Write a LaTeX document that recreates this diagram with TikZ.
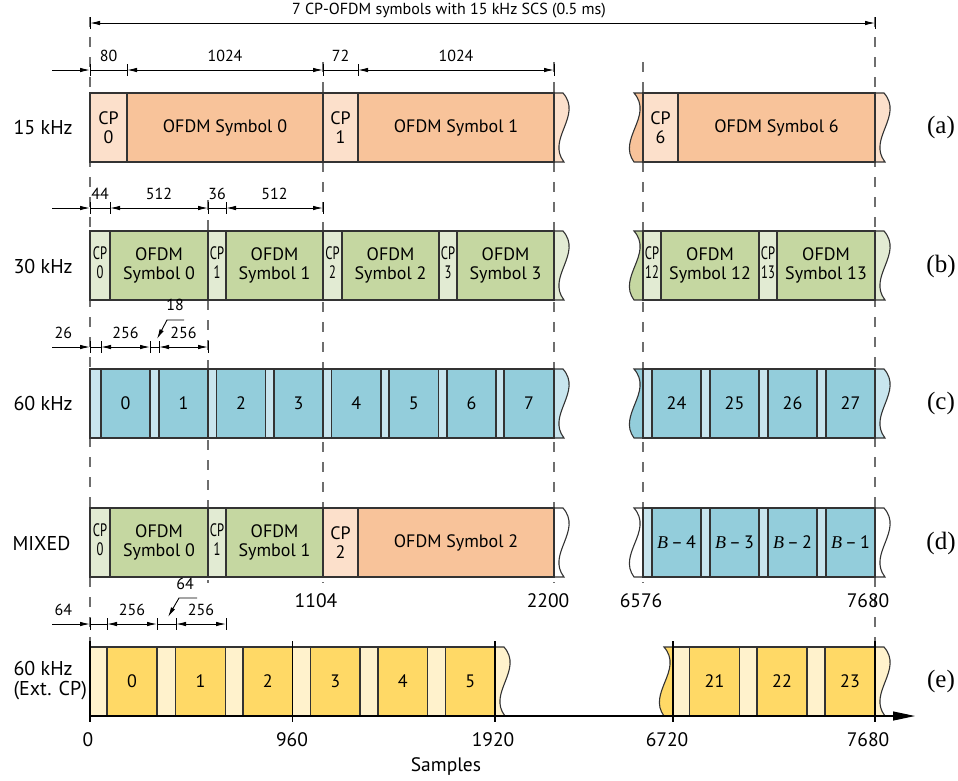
\documentclass[tikz,border=0pt]{standalone}
\usepackage{fontspec}
\setmainfont{Liberation Serif}
\setsansfont{PT Sans}
\usepackage{graphicx}
\usetikzlibrary{arrows.meta}

\definecolor{orangeD}{HTML}{F8C39A}
\definecolor{orangeL}{HTML}{FCE0CB}
\definecolor{greenD}{HTML}{C5D7A1}
\definecolor{greenL}{HTML}{E2EBD3}
\definecolor{blueD}{HTML}{93CDDB}
\definecolor{blueL}{HTML}{C8E5EE}
\definecolor{yellowD}{HTML}{FFD966}
\definecolor{yellowL}{HTML}{FFF2CC}
\definecolor{edge}{HTML}{333333}
\definecolor{guidegray}{HTML}{6E6E6E}

% narrow CP label and torn ends
\newcommand\cpn[1]{\scalebox{0.7}[1]{\begin{tabular}{@{}c@{}}CP\\#1\end{tabular}}}
\newcommand\tornR[3]{\filldraw[torn, fill=#3] (#1,#2) -- (#1+9,#2) .. controls (#1+29,#2+23) and (#1-8,#2+46) .. (#1+10,#2+69) -- (#1,#2+69);}
\newcommand\tornL[3]{\filldraw[torn, fill=#3] (#1,#2) -- (#1-9,#2) .. controls (#1+11,#2+23) and (#1-26,#2+46) .. (#1-9,#2+69) -- (#1,#2+69);}

\tikzset{
  cell/.style={
    rectangle, draw=edge, line width=1.1pt, anchor=north west,
    minimum height=69pt, inner sep=0pt, outer sep=0pt, align=center,
    font=\sffamily\fontsize{18}{19}\selectfont
  },
  cpA/.style={cell, fill=orangeL}, symA/.style={cell, fill=orangeD},
  cpB/.style={cell, fill=greenL},  symB/.style={cell, fill=greenD},
  cpC/.style={cell, fill=blueL},   symC/.style={cell, fill=blueD},
  cpE/.style={cell, fill=yellowL}, symE/.style={cell, fill=yellowD},
  torn/.style={draw=edge, line width=1.1pt},
  guide/.style={draw=guidegray, line width=1.5pt, dash pattern=on 10pt off 10pt},
  dimline/.style={line width=0.9pt},
  dimarrow/.style={dimline, {Latex[length=10pt,width=4.5pt]}-{Latex[length=10pt,width=4.5pt]}},
  feed/.style={dimline, -{Latex[length=10pt,width=4.5pt]}},
  tick/.style={line width=0.9pt},
  dimlabel/.style={font=\sffamily\fontsize{16}{17}\selectfont, inner sep=2pt, above=6pt},
  rowlabel/.style={anchor=west, align=left, font=\sffamily\fontsize{20}{20}\selectfont},
  tag/.style={font=\rmfamily\fontsize{25}{27}\selectfont},
  axislabel/.style={font=\sffamily\fontsize{19.5}{21}\selectfont},
  axisline/.style={line width=1.1pt, -{Triangle[length=22pt,width=9pt]}}
}

\begin{document}
\begin{tikzpicture}[x=1pt, y=-1pt]
  \useasboundingbox (0,0) rectangle (958,780);

  % Guides
  \draw[guide] (90,17) -- (90,716);
  \draw[guide] (875,17) -- (875,716);
  \draw[guide] (323,62) -- (323,583);
  \draw[guide] (554,62) -- (554,583);
  \draw[guide] (643,62) -- (643,583);
  \draw[guide] (208,200) -- (208,583);

  % Torn ends
  \tornR{554}{93}{orangeL}  \tornL{643}{93}{orangeD}  \tornR{875}{93}{orangeL}
  \tornR{554}{231}{greenL}  \tornL{643}{231}{greenD}  \tornR{875}{231}{greenL}
  \tornR{554}{369}{blueL}   \tornL{643}{369}{blueD}   \tornR{875}{369}{blueL}
  \tornR{554}{508}{white}   \tornL{643}{508}{white}   \tornR{875}{508}{white}
  \tornR{495}{647}{yellowL} \tornL{673}{647}{yellowD} \tornR{875}{647}{yellowL}

  % (a) 15 kHz
  \node[cpA, minimum width=37pt] (a-cp0) at (90,93) {CP\\0};
  \node[symA, minimum width=196pt] (a-s0) at (127,93) {OFDM Symbol 0};
  \node[cpA, minimum width=35pt] (a-cp1) at (323,93) {CP\\1};
  \node[symA, minimum width=196pt] (a-s1) at (358,93) {OFDM Symbol 1};
  \node[cpA, minimum width=35pt] (a-cp6) at (643,93) {CP\\6};
  \node[symA, minimum width=197pt] (a-s6) at (678,93) {OFDM Symbol 6};

  % (b) 30 kHz
  \node[cpB, minimum width=20pt] (b-cp0) at (90,231) {\cpn{0}};
  \node[symB, minimum width=98pt] (b-s0) at (110,231) {OFDM\\Symbol 0};
  \node[cpB, minimum width=18pt] (b-cp1) at (208,231) {\cpn{1}};
  \node[symB, minimum width=97pt] (b-s1) at (226,231) {OFDM\\Symbol 1};
  \node[cpB, minimum width=19pt] (b-cp2) at (323,231) {\cpn{2}};
  \node[symB, minimum width=97pt] (b-s2) at (342,231) {OFDM\\Symbol 2};
  \node[cpB, minimum width=18pt] (b-cp3) at (439,231) {\cpn{3}};
  \node[symB, minimum width=97pt] (b-s3) at (457,231) {OFDM\\Symbol 3};
  \node[cpB, minimum width=18pt] (b-cp12) at (643,231) {\cpn{12}};
  \node[symB, minimum width=98pt] (b-s12) at (661,231) {OFDM\\Symbol 12};
  \node[cpB, minimum width=18pt] (b-cp13) at (759,231) {\cpn{13}};
  \node[symB, minimum width=98pt] (b-s13) at (777,231) {OFDM\\Symbol 13};

  % (c) 60 kHz
  \foreach \xa/\xb/\xc/\n in {90/101/150/0, 150/159/208/1, 208/216.5/265.5/2,
      265.5/274/323/3, 323/331.5/381/4, 381/389/438.5/5, 438.5/447/496/6,
      496/504/554/7, 643/652/701/24, 701/710/759/25, 759/768/817/26, 817/826/875/27} {
    \node[cpC, minimum width={(\xb-\xa)*1pt}] (c-cp\n) at (\xa,369) {};
    \node[symC, minimum width={(\xc-\xb)*1pt}] (c-s\n) at (\xb,369) {\n};
  }

  % (d) mixed
  \node[cpB, minimum width=20pt] (d-cp0) at (90,508) {\cpn{0}};
  \node[symB, minimum width=98pt] (d-s0) at (110,508) {OFDM\\Symbol 0};
  \node[cpB, minimum width=18pt] (d-cp1) at (208,508) {\cpn{1}};
  \node[symB, minimum width=97pt] (d-s1) at (226,508) {OFDM\\Symbol 1};
  \node[cpA, minimum width=35pt] (d-cp2) at (323,508) {CP\\2};
  \node[symA, minimum width=196pt] (d-s2) at (358,508) {OFDM Symbol 2};
  \foreach \xa/\xb/\xc/\n in {643/652/701/4, 701/710/759/3, 759/768/817/2, 817/826/875/1} {
    \node[cpC, minimum width={(\xb-\xa)*1pt}] (d-cpB\n) at (\xa,508) {};
    \node[symC, minimum width={(\xc-\xb)*1pt}] (d-sB\n) at (\xb,508) {{\rmfamily\itshape B}\,--\,\n};
  }

  % (e) 60 kHz extended CP
  \foreach \xa/\xb/\xc/\n in {90/107/157/0, 157/175.5/225.5/1, 225.5/243/292.5/2,
      292.5/310.5/360/3, 360/378/427.5/4, 427.5/445.5/495/5,
      673/689.5/739.5/21, 739.5/757/807/22, 807/825/875/23} {
    \node[cpE, minimum width={(\xb-\xa)*1pt}] (e-cp\n) at (\xa,647) {};
    \node[symE, minimum width={(\xc-\xb)*1pt}] (e-s\n) at (\xb,647) {\n};
  }

  % Sample axis
  \coordinate (ax0) at (90,716);
  \coordinate (ax1) at (915,716);
  \draw[axisline] (ax0) -- (ax1);
  \foreach \x in {90,292.5,495,673,875} \draw[tick, line width=1.1pt] (\x,641) -- (\x,722);

  % Total duration
  \coordinate (tot0) at (90,23);
  \coordinate (tot1) at (875,23);
  \draw[dimarrow] (tot0) -- (tot1);
  \draw[tick] ([yshift=6pt]tot0) -- ([yshift=-6pt]tot0);
  \draw[tick] ([yshift=6pt]tot1) -- ([yshift=-6pt]tot1);
  \node[font=\sffamily\fontsize{16}{18}\selectfont] (tot) at (449,11)
    {7 CP-OFDM symbols with 15 kHz SCS (0.5 ms)};

  % Dimensions (a)
  \coordinate (a-in) at (52,70);
  \coordinate (a-d0) at (90,70);  \coordinate (a-d1) at (127,70);
  \coordinate (a-d2) at (323,70); \coordinate (a-d3) at (358,70);
  \coordinate (a-d4) at (554,70);
  \foreach \p in {a-d0,a-d1,a-d2,a-d3,a-d4} \draw[tick] ([yshift=6pt]\p) -- ([yshift=-6pt]\p);
  \draw[feed] (a-in) -- (a-d0);
  \draw[dimline] (a-d0) -- (a-d1) node[dimlabel, midway] {80};
  \draw[dimarrow] (a-d1) -- (a-d2) node[dimlabel, midway] {1024};
  \draw[dimline] (a-d2) -- (a-d3) node[dimlabel, midway] {72};
  \draw[dimarrow] (a-d3) -- (a-d4) node[dimlabel, midway] {1024};

  % Dimensions (b)
  \coordinate (b-in) at (52,208);
  \coordinate (b-d0) at (90,208);  \coordinate (b-d1) at (110,208);
  \coordinate (b-d2) at (208,208); \coordinate (b-d3) at (226,208);
  \coordinate (b-d4) at (323,208);
  \foreach \p in {b-d0,b-d1,b-d2,b-d3,b-d4} \draw[tick] ([yshift=6pt]\p) -- ([yshift=-6pt]\p);
  \draw[feed] (b-in) -- (b-d0);
  \draw[dimline] (b-d0) -- (b-d1) node[dimlabel, midway] {44};
  \draw[dimarrow] (b-d1) -- (b-d2) node[dimlabel, midway] {512};
  \draw[dimline] (b-d2) -- (b-d3) node[dimlabel, midway] {36};
  \draw[dimarrow] (b-d3) -- (b-d4) node[dimlabel, midway] {512};

  % Dimensions (c)
  \coordinate (c-in) at (52,347);
  \coordinate (c-d0) at (90,347);  \coordinate (c-d1) at (101,347);
  \coordinate (c-d2) at (150,347); \coordinate (c-d3) at (159,347);
  \coordinate (c-d4) at (208,347);
  \foreach \p in {c-d0,c-d1,c-d2,c-d3,c-d4} \draw[tick] ([yshift=6pt]\p) -- ([yshift=-6pt]\p);
  \draw[feed] (c-in) -- (c-d0) node[dimlabel, pos=0.3] {26};
  \draw[dimline] (c-d0) -- (c-d1);
  \draw[dimarrow] (c-d1) -- (c-d2) node[dimlabel, midway] {256};
  \draw[dimline] (c-d2) -- (c-d3);
  \draw[dimarrow] (c-d3) -- (c-d4) node[dimlabel, midway] {256};
  \node[dimlabel, above=0pt, anchor=center] (c-gap) at (175,311) {18};
  \coordinate (c-k0) at (184,320); \coordinate (c-k1) at (167,320); \coordinate (c-k2) at (157,339);
  \draw[feed] (c-k0) -- (c-k1) -- (c-k2);

  % Dimensions (e)
  \coordinate (e-in) at (52,624);
  \coordinate (e-d0) at (90,624);  \coordinate (e-d1) at (107,624);
  \coordinate (e-d2) at (157,624); \coordinate (e-d3) at (176,624);
  \coordinate (e-d4) at (226,624);
  \foreach \p in {e-d0,e-d1,e-d2,e-d3,e-d4} \draw[tick] ([yshift=6pt]\p) -- ([yshift=-6pt]\p);
  \draw[feed] (e-in) -- (e-d0) node[dimlabel, pos=0.3] {64};
  \draw[dimline] (e-d0) -- (e-d1);
  \draw[dimarrow] (e-d1) -- (e-d2) node[dimlabel, midway] {256};
  \draw[dimline] (e-d2) -- (e-d3);
  \draw[dimarrow] (e-d3) -- (e-d4) node[dimlabel, midway] {256};
  \node[dimlabel, above=0pt, anchor=center] (e-gap) at (185,590) {64};
  \coordinate (e-k0) at (197,598); \coordinate (e-k1) at (179,598); \coordinate (e-k2) at (168,617);
  \draw[feed] (e-k0) -- (e-k1) -- (e-k2);

  % Row labels
  \node[rowlabel] (l15) at (10,127) {15 kHz};
  \node[rowlabel] (l30) at (10,266) {30 kHz};
  \node[rowlabel] (l60) at (10,403) {60 kHz};
  \node[rowlabel] (lmix) at (9,543) {MIXED};
  \node[rowlabel] (lext) at (10,681) {60 kHz\\(Ext. CP)};

  \node[tag] (ta) at (941,127) {(a)};
  \node[tag] (tb) at (941,266) {(b)};
  \node[tag] (tc) at (941,403) {(c)};
  \node[tag] (td) at (941,543) {(d)};
  \node[tag] (te) at (941,681) {(e)};

  % Sample marks
  \node[axislabel] (m1104) at (316,601) {1104};
  \node[axislabel] (m2200) at (548,601) {2200};
  \node[axislabel] (m6576) at (641,601) {6576};
  \node[axislabel] (m7680a) at (868,601) {7680};
  \node[axislabel] (m0) at (88,740) {0};
  \node[axislabel] (m960) at (292,740) {960};
  \node[axislabel] (m1920) at (493,740) {1920};
  \node[axislabel] (m6720) at (667,740) {6720};
  \node[axislabel] (m7680b) at (868,740) {7680};
  \node[axislabel] (samples) at (446,766) {Samples};

\end{tikzpicture}
\end{document}
